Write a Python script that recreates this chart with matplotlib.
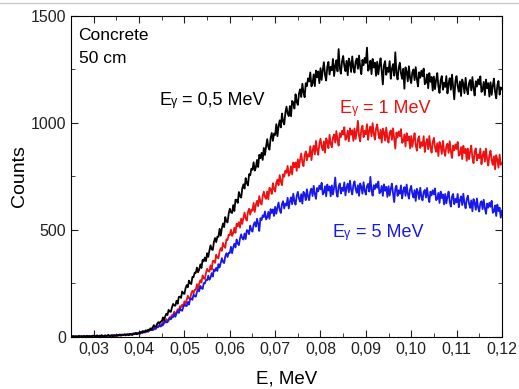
import numpy as np
import matplotlib.pyplot as plt
from matplotlib.ticker import MultipleLocator, FuncFormatter
from matplotlib.lines import Line2D
from matplotlib.offsetbox import TextArea, HPacker, AnnotationBbox

plt.rcParams['font.family'] = ['Liberation Sans', 'DejaVu Sans']

# spectra behind 50 cm of concrete, one channel every 0.00025 MeV from 0.025 to 0.12
counts_05mev = [
    2, 0, 4, 1, 3, 2, 0, 5, 2, 3, 1, 4, 3, 0, 5, 2, 4, 1, 3, 5,
    6, 2, 4, 7, 1, 5, 3, 8, 4, 2, 7, 3, 6, 9, 4, 5, 8, 2, 7, 6,
    5, 9, 7, 11, 6, 10, 8, 12, 7, 11, 12, 8, 14, 11, 9, 16, 13, 19, 12, 17,
    16, 23, 19, 27, 22, 26, 31, 25, 34, 30, 40, 34, 45, 55, 48, 48, 62, 69, 62, 72,
    71, 91, 77, 96, 108, 102, 126, 118, 117, 138, 154, 146, 146, 169, 155, 187, 188, 182, 212, 203,
    201, 228, 242, 232, 263, 251, 247, 280, 279, 300, 299, 324, 302, 315, 339, 322, 360, 353, 371, 354,
    391, 374, 403, 428, 409, 406, 444, 462, 443, 468, 468, 505, 473, 508, 530, 513, 560, 540, 535, 575,
    599, 582, 579, 616, 588, 641, 640, 626, 677, 657, 651, 694, 713, 693, 742, 719, 708, 760, 755, 786,
    781, 816, 777, 792, 827, 794, 851, 835, 860, 827, 883, 850, 890, 924, 887, 875, 930, 953, 916, 950,
    944, 994, 938, 984, 1012, 979, 1044, 1007, 993, 1047, 1076, 1044, 1032, 1079, 1031, 1103, 1095, 1067, 1134, 1098,
    1084, 1137, 1157, 1121, 1183, 1143, 1120, 1186, 1172, 1208, 1194, 1236, 1171, 1185, 1227, 1172, 1245, 1213, 1241, 1186,
    1256, 1201, 1247, 1284, 1224, 1198, 1263, 1285, 1226, 1262, 1246, 1299, 1219, 1268, 1293, 1241, 1345, 1257, 1230, 1288,
    1313, 1265, 1242, 1290, 1223, 1301, 1282, 1238, 1311, 1259, 1235, 1287, 1301, 1253, 1315, 1261, 1228, 1295, 1270, 1304,
    1280, 1352, 1244, 1254, 1291, 1228, 1299, 1259, 1282, 1220, 1286, 1227, 1270, 1302, 1239, 1180, 1270, 1289, 1225, 1258,
    1238, 1289, 1206, 1253, 1275, 1221, 1330, 1232, 1203, 1258, 1281, 1232, 1206, 1253, 1160, 1260, 1240, 1194, 1265, 1211,
    1186, 1236, 1250, 1200, 1261, 1206, 1171, 1237, 1211, 1244, 1218, 1254, 1181, 1189, 1226, 1162, 1233, 1192, 1215, 1151,
    1217, 1158, 1201, 1233, 1170, 1140, 1200, 1219, 1155, 1188, 1168, 1219, 1138, 1185, 1209, 1155, 1226, 1168, 1110, 1196,
    1219, 1171, 1146, 1194, 1126, 1203, 1184, 1139, 1211, 1158, 1134, 1186, 1201, 1152, 1214, 1161, 1128, 1195, 1170, 1204,
    1180, 1218, 1145, 1155, 1192, 1130, 1202, 1162, 1186, 1123, 1190, 1131, 1175, 1207, 1145, 1115, 1176, 1196, 1132, 1166,
    1158,
]
counts_1mev = [
    1, 3, 0, 2, 1, 0, 3, 1, 2, 0, 3, 1, 4, 2, 0, 3, 2, 5, 1, 3,
    2, 5, 3, 1, 4, 6, 2, 4, 5, 3, 6, 3, 5, 7, 4, 2, 6, 5, 8, 4,
    7, 5, 8, 6, 10, 7, 9, 11, 8, 10, 8, 12, 10, 13, 11, 15, 12, 16, 14, 17,
    17, 14, 21, 18, 25, 20, 23, 28, 24, 31, 35, 32, 32, 41, 35, 48, 48, 45, 57, 53,
    51, 65, 72, 67, 83, 77, 75, 92, 92, 102, 102, 118, 106, 114, 129, 119, 143, 139, 151, 141,
    166, 154, 174, 192, 179, 177, 203, 215, 203, 220, 220, 246, 225, 249, 265, 254, 287, 274, 271, 299,
    318, 307, 305, 334, 314, 355, 355, 346, 384, 371, 367, 400, 415, 402, 439, 423, 416, 456, 453, 477,
    475, 501, 472, 484, 510, 486, 529, 517, 536, 511, 553, 528, 557, 581, 553, 543, 583, 599, 571, 595,
    590, 626, 584, 617, 636, 611, 658, 630, 619, 658, 679, 654, 645, 680, 643, 697, 690, 668, 718, 691,
    679, 720, 735, 709, 756, 726, 709, 760, 749, 777, 767, 799, 753, 765, 798, 759, 815, 793, 815, 776,
    830, 791, 828, 857, 815, 798, 849, 867, 825, 854, 843, 891, 826, 870, 893, 853, 916, 872, 851, 903,
    926, 889, 872, 914, 861, 928, 915, 882, 944, 903, 886, 932, 946, 908, 962, 920, 894, 952, 934, 964,
    946, 980, 921, 931, 964, 914, 975, 945, 966, 916, 974, 925, 962, 1010, 939, 914, 970, 987, 933, 963,
    947, 994, 921, 963, 983, 937, 999, 949, 922, 973, 993, 950, 927, 968, 908, 973, 955, 917, 978, 930,
    908, 954, 965, 921, 975, 928, 880, 955, 932, 960, 938, 971, 907, 913, 946, 890, 952, 918, 937, 881,
    939, 888, 923, 952, 896, 870, 923, 938, 883, 910, 892, 938, 864, 905, 925, 877, 939, 888, 861, 910,
    930, 887, 865, 905, 845, 911, 893, 855, 916, 868, 846, 892, 903, 860, 914, 867, 836, 894, 872, 900,
    878, 911, 847, 854, 887, 831, 893, 859, 879, 823, 881, 830, 866, 894, 838, 812, 866, 881, 825, 853,
    835, 880, 807, 847, 867, 819, 880, 829, 801, 850, 870, 826, 804, 844, 783, 849, 830, 791, 852, 804,
    812,
]
counts_5mev = [
    0, 2, 1, 0, 3, 1, 2, 0, 1, 3, 2, 0, 3, 1, 4, 2, 1, 3, 4, 2,
    4, 2, 5, 3, 1, 4, 6, 3, 5, 4, 6, 4, 7, 5, 3, 7, 6, 8, 5, 7,
    9, 6, 8, 10, 7, 11, 8, 9, 12, 10, 12, 9, 13, 11, 15, 12, 16, 14, 18, 15,
    20, 16, 23, 19, 26, 22, 24, 29, 25, 32, 31, 39, 32, 36, 43, 38, 50, 48, 53, 48,
    60, 54, 65, 75, 68, 68, 82, 89, 82, 92, 92, 108, 94, 110, 120, 112, 133, 124, 122, 140,
    152, 145, 144, 163, 151, 178, 179, 173, 198, 190, 188, 211, 221, 213, 238, 228, 224, 251, 250, 266,
    265, 286, 267, 277, 298, 282, 315, 308, 323, 308, 340, 324, 347, 368, 350, 345, 377, 391, 373, 393,
    392, 421, 391, 418, 435, 418, 455, 436, 429, 460, 479, 461, 455, 483, 457, 499, 495, 480, 520, 500,
    492, 524, 536, 515, 552, 529, 495, 555, 546, 568, 560, 586, 549, 558, 584, 552, 597, 579, 596, 565,
    608, 576, 605, 628, 593, 579, 620, 634, 600, 623, 614, 650, 600, 634, 652, 620, 669, 634, 618, 658,
    678, 647, 632, 667, 623, 678, 667, 639, 690, 656, 639, 680, 693, 658, 706, 668, 645, 696, 680, 707,
    690, 720, 666, 674, 704, 657, 712, 684, 703, 657, 708, 665, 698, 745, 677, 655, 703, 717, 670, 697,
    682, 722, 661, 698, 716, 676, 730, 688, 666, 709, 727, 691, 673, 709, 659, 717, 701, 669, 723, 683,
    665, 705, 715, 679, 748, 685, 660, 709, 691, 715, 697, 726, 671, 678, 706, 659, 713, 683, 701, 654,
    704, 660, 692, 716, 670, 630, 693, 707, 659, 685, 669, 708, 647, 682, 700, 659, 712, 669, 646, 689,
    706, 669, 651, 686, 635, 692, 677, 644, 697, 656, 638, 677, 687, 651, 696, 656, 630, 679, 661, 685,
    666, 694, 639, 645, 673, 626, 679, 649, 666, 619, 668, 624, 655, 679, 632, 609, 655, 668, 620, 645,
    629, 668, 606, 640, 657, 616, 669, 625, 601, 643, 660, 623, 603, 638, 587, 644, 627, 594, 647, 605,
    586, 625, 634, 597, 641, 601, 575, 623, 604, 627, 608, 636, 580, 586, 614, 565, 618, 588, 604, 557,
    590,
]
energy = np.linspace(0.025, 0.12, len(counts_05mev))

# (gamma energy text, counts, colour, label position in data units)
series = [
    ('1 MeV', counts_1mev, '#ee1111', (0.0842, 1068)),
    ('5 MeV', counts_5mev, '#1818e8', (0.0826, 488)),
    ('0,5 MeV', counts_05mev, 'black', (0.0444, 1105)),
]

fig = plt.figure(figsize=(5.19, 3.89), dpi=100)
ax = fig.add_axes([0.137, 0.134, 0.830, 0.825])

for e_text, y, color, pos in series:
    ax.plot(energy, y, color=color, lw=1.3)
    # "E" followed by a small gamma sitting on the baseline
    parts = [
        TextArea('E', textprops=dict(color=color, size=13)),
        TextArea('γ', textprops=dict(color=color, size=9)),
        TextArea(' = ' + e_text, textprops=dict(color=color, size=13)),
    ]
    box = HPacker(children=parts, align='baseline', pad=0, sep=0)
    ab = AnnotationBbox(box, pos, xycoords='data', box_alignment=(0, 0.5),
                        frameon=False, pad=0)
    ax.add_artist(ab)

ax.text(0.0265, 1410, 'Concrete', fontsize=12.5, va='center')
ax.text(0.0267, 1300, '50 cm', fontsize=12.5, va='center')

ax.set_xlim(0.025, 0.12)
ax.set_ylim(0, 1500)
ax.xaxis.set_major_locator(MultipleLocator(0.01))
ax.xaxis.set_minor_locator(MultipleLocator(0.005))
ax.yaxis.set_major_locator(MultipleLocator(500))
ax.yaxis.set_minor_locator(MultipleLocator(250))
ax.xaxis.set_major_formatter(FuncFormatter(lambda v, p: f'{v:.2f}'.replace('.', ',')))
ax.tick_params(which='both', direction='in', top=True, right=True, labelsize=11.5, colors='#222222')
ax.tick_params(which='major', length=5)
ax.tick_params(which='minor', length=3)
ax.set_xlabel('E, MeV', fontsize=13.5, labelpad=10)
ax.set_ylabel('Counts', fontsize=14, labelpad=2)

# thin grey rule along the top edge
fig.add_artist(Line2D([0, 1], [0.993, 0.993], color='#c8c8c8', lw=1.0))

fig.savefig('out.png', dpi=100)
